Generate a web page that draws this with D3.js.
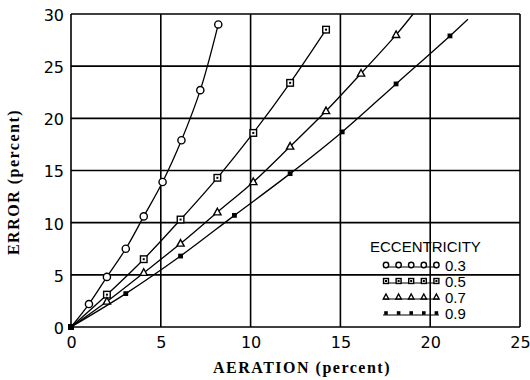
<!DOCTYPE html>
<html>
<head>
<meta charset="utf-8">
<script src="https://cdn.jsdelivr.net/npm/d3@7"></script>
<style>
  body { margin: 0; background: #fff; }
  svg { display: block; }
  .tick text { font-family: "DejaVu Sans", sans-serif; font-size: 16px; fill: #000; }
  .axis-title { font-family: "Liberation Serif", serif; font-weight: bold; font-size: 16px; fill: #000; }
  .legend text { font-family: "Liberation Sans", Arial, sans-serif; font-size: 15px; fill: #000; }
</style>
</head>
<body>
<div id="chart"></div>
<script>
// values
const xTicks = [0, 5, 10, 15, 20, 25] ;
const yTicks = [0, 5, 10, 15, 20, 25, 30] ;

const ecc03_x = [0, 1, 2, 3.05, 4.05, 5.1, 6.15, 7.2, 8.2] ;
const ecc03_y = [0, 2.2, 4.8, 7.5, 10.6, 13.9, 17.9, 22.7, 29.0] ;

const ecc05_x = [0, 2, 4.05, 6.1, 8.15, 10.15, 12.2, 14.2] ;
const ecc05_y = [0, 3.1, 6.5, 10.3, 14.3, 18.6, 23.4, 28.5] ;

const ecc07_x = [0, 2, 4.05, 6.1, 8.15, 10.15, 12.2, 14.2, 16.15, 18.1] ;
const ecc07_y = [0, 2.45, 5.2, 8.0, 11.0, 13.9, 17.3, 20.7, 24.3, 28.0] ;

const ecc09_x = [0, 3.05, 6.1, 9.1, 12.2, 15.1, 18.1, 21.1] ;
const ecc09_y = [0, 3.2, 6.8, 10.7, 14.7, 18.7, 23.3, 27.9] ;

// the fitted curves for 0.7 and 0.9 run on past their last marker
const curveEnds = {"0.7": [19.05, 30], "0.9": [22.1, 29.5]} ;

const labels  = ["0.3", "0.5", "0.7", "0.9"] ;
const symbols = ["circle", "square", "triangle", "dot"] ;

const series = [
  {label: labels[0], sym: symbols[0], x: ecc03_x, y: ecc03_y},
  {label: labels[1], sym: symbols[1], x: ecc05_x, y: ecc05_y},
  {label: labels[2], sym: symbols[2], x: ecc07_x, y: ecc07_y},
  {label: labels[3], sym: symbols[3], x: ecc09_x, y: ecc09_y}
] ;

let dimensions = {
  width: 530,
  height: 380,
  margin: {top: 14, right: 10, bottom: 53, left: 71},
}
dimensions.boundedWidth = dimensions.width - dimensions.margin.left - dimensions.margin.right
dimensions.boundedHeight = dimensions.height - dimensions.margin.top - dimensions.margin.bottom

const svg = d3.select("#chart").append("svg")
    .attr("width", dimensions.width)
    .attr("height", dimensions.height)
;
const bounds = svg.append("g")
    .attr("transform", `translate(${dimensions.margin.left},${dimensions.margin.top})`)
;

const xScale = d3.scaleLinear().domain([0, 25]).range([0, 449]) ;
const yScale = d3.scaleLinear().domain([0, 30]).range([313, 0]) ;

// grid
bounds.append("g").selectAll("line")
  .data(xTicks)
  .enter().append("line")
    .attr("x1", d => xScale(d)).attr("x2", d => xScale(d))
    .attr("y1", yScale(0)).attr("y2", yScale(30))
    .attr("stroke", "#000").attr("stroke-width", 1.6)
;
bounds.append("g").selectAll("line")
  .data(yTicks)
  .enter().append("line")
    .attr("x1", xScale(0)).attr("x2", xScale(25))
    .attr("y1", d => yScale(d)).attr("y2", d => yScale(d))
    .attr("stroke", "#000").attr("stroke-width", 1.6)
;

// axes (labels only, grid already drawn)
const xAxis = bounds.append("g")
    .attr("transform", `translate(0,${yScale(0)})`)
    .call(d3.axisBottom(xScale).tickValues(xTicks).tickSize(0).tickPadding(10).tickFormat(d3.format("d")))
;
const yAxis = bounds.append("g")
    .call(d3.axisLeft(yScale).tickValues(yTicks).tickSize(0).tickPadding(7).tickFormat(d3.format("d")))
;
xAxis.select(".domain").remove() ;
yAxis.select(".domain").remove() ;
yAxis.selectAll(".tick text").attr("dy", "0.4em") ;

svg.append("text")
    .attr("class", "axis-title")
    .attr("x", 302).attr("y", 373)
    .attr("text-anchor", "middle")
    .attr("letter-spacing", 1.5)
    .text("AERATION (percent)")
;
svg.append("text")
    .attr("class", "axis-title")
    .attr("transform", "translate(19,182) rotate(-90)")
    .attr("text-anchor", "middle")
    .attr("letter-spacing", 1.5)
    .text("ERROR (percent)")
;

// markers
function drawMarker(g, sym, cx, cy, s) {
  if (sym == "circle") {
    g.append("circle").attr("cx", cx).attr("cy", cy).attr("r", s * 0.6)
      .attr("fill", "#fff").attr("stroke", "#000").attr("stroke-width", 1.4) ;
  } else if (sym == "square") {
    g.append("rect").attr("x", cx - s * 0.55).attr("y", cy - s * 0.55)
      .attr("width", s * 1.1).attr("height", s * 1.1)
      .attr("fill", "#fff").attr("stroke", "#000").attr("stroke-width", 1.4) ;
    g.append("rect").attr("x", cx - 1).attr("y", cy - 1).attr("width", 2).attr("height", 2).attr("fill", "#000") ;
  } else if (sym == "triangle") {
    const h = s * 1.1 ;
    g.append("path")
      .attr("d", `M${cx},${cy - h * 0.6}L${cx + h * 0.55},${cy + h * 0.4}L${cx - h * 0.55},${cy + h * 0.4}Z`)
      .attr("fill", "#fff").attr("stroke", "#000").attr("stroke-width", 1.4) ;
  } else {
    g.append("rect").attr("x", cx - s * 0.4).attr("y", cy - s * 0.4)
      .attr("width", s * 0.8).attr("height", s * 0.8).attr("fill", "#000") ;
  }
}

const line = d3.line()
    .x(d => xScale(d[0]))
    .y(d => yScale(d[1]))
    .curve(d3.curveCatmullRom)
;

series.forEach(s => {
  const pts = s.x.map((v, i) => [v, s.y[i]]) ;
  const linePts = curveEnds[s.label] ? pts.concat([curveEnds[s.label]]) : pts ;
  bounds.append("path")
      .datum(linePts)
      .attr("d", line)
      .attr("fill", "none")
      .attr("stroke", "#000")
      .attr("stroke-width", 1.3)
  ;
  const mg = bounds.append("g") ;
  pts.slice(1).forEach(p => drawMarker(mg, s.sym, xScale(p[0]), yScale(p[1]), 6)) ;
}) ;

// the pile-up at the origin
bounds.append("rect")
    .attr("x", xScale(0) - 3).attr("y", yScale(0) - 3)
    .attr("width", 6).attr("height", 6).attr("fill", "#000")
;

// legend
const legend = svg.append("g").attr("class", "legend") ;
legend.append("text").attr("x", 370).attr("y", 252).text("ECCENTRICITY") ;
series.forEach((s, i) => {
  const cy = 265 + i * 16 ;
  const lg = legend.append("g") ;
  lg.append("line")
      .attr("x1", 383).attr("x2", 439)
      .attr("y1", cy + 2).attr("y2", cy + 2)
      .attr("stroke", "#000").attr("stroke-width", 1.2) ;
  d3.range(5).forEach(k => drawMarker(lg, s.sym, 386 + k * 12.6, cy, 4.5)) ;
  lg.append("text").attr("x", 445).attr("y", cy + 5.5).text(s.label) ;
}) ;
</script>
</body>
</html>
